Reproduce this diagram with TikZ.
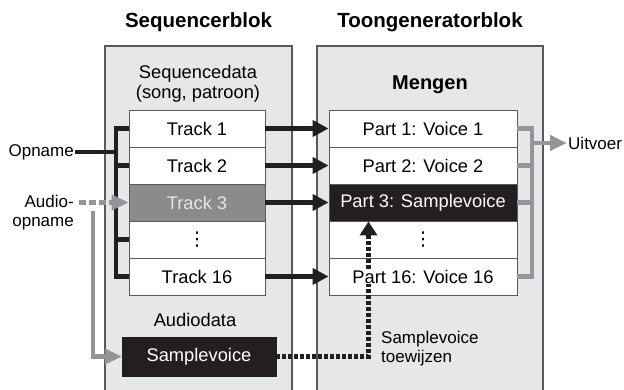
\documentclass[tikz,border=0pt]{standalone}
\usepackage{fontspec}
\setmainfont{Liberation Sans}
\newfontfamily\symfont{DejaVu Sans}
\usetikzlibrary{arrows.meta,calc,positioning}
\definecolor{ink}{HTML}{231F20}
\definecolor{panelgray}{HTML}{E6E7E8}
\definecolor{edgegray}{HTML}{58595B}
\definecolor{wiregray}{HTML}{939598}
\definecolor{trackgray}{HTML}{8A8B8D}
\definecolor{palegray}{HTML}{E6E6E6}
\tikzset{
  blocktitle/.style={font=\fontsize{20.5}{24}\selectfont\bfseries,inner sep=1pt},
  plain/.style={font=\fontsize{18.3}{19.5}\selectfont,align=center,inner sep=2pt},
  sidelabel/.style={font=\fontsize{17}{19.5}\selectfont,inner sep=1pt},
  panel/.style={draw=edgegray,fill=panelgray,line width=1.4pt},
  rowbox/.style={draw=edgegray,fill=white,line width=0.9pt,minimum height=37pt,inner sep=0pt,font=\fontsize{18.3}{19.5}\selectfont},
  trackrow/.style={rowbox,minimum width=136pt},
  partrow/.style={rowbox,minimum width=188pt},
  greyrow/.style={fill=trackgray,text=palegray},
  darkrow/.style={fill=ink,text=white},
  busline/.style={line width=4.5pt,color=ink},
  graybus/.style={line width=4.5pt,color=wiregray},
  fatarr/.style={-{Triangle[length=16pt,width=16pt]},line width=4.5pt,color=ink},
  grayarr/.style={-{Triangle[length=17pt,width=15pt]},line width=4.5pt,color=wiregray},
  graydash/.style={grayarr,dash pattern=on 7pt off 3pt},
  dotwire/.style={-{Triangle[length=14pt,width=17pt]},line width=4.5pt,color=ink,dash pattern=on 3.5pt off 2.5pt}
}
\newcommand{\rowdots}{{\symfont\fontsize{19}{19}\selectfont ⋮}}

\begin{document}
\begin{tikzpicture}[x=1pt,y=-1pt]
  \useasboundingbox (0,0) rectangle (624,390);
  % two blocks
  \draw[panel] (105,46) rectangle (292,393);
  \draw[panel] (317,46) rectangle (543,393);
  \node[blocktitle] (seqtitle) at (198.5,22) {Sequencerblok};
  \node[blocktitle] (tgtitle) at (430,22) {Toongeneratorblok};
  \node[plain] (sdata) at (198,84) {Sequencedata\\(song, patroon)};
  \node[plain,font=\fontsize{20}{22}\selectfont\bfseries] (mix) at (430,85) {Mengen};

  % rows
  \foreach \id/\yy/\kind/\txt in {t1/128.5/rowbox/Track 1,t2/165.5/rowbox/Track 2,
      t3/202.5/greyrow/Track 3,td/239.5/rowbox/\rowdots,t16/276.5/rowbox/Track 16}
    \node[trackrow,\kind] (\id) at (197,\yy) {\txt};
  \foreach \id/\yy/\kind/\txt in {p1/128.5/rowbox/Part 1: Voice 1,p2/165.5/rowbox/Part 2: Voice 2,
      p3/202.5/darkrow/Part 3: Samplevoice,pd/239.5/rowbox/\rowdots}
    \node[partrow,\kind] (\id) at (423,\yy) {\txt};
  \node[partrow] (p16) at (423,276.5) {};

  \foreach \a/\b in {t1/p1,t2/p2,t3/p3,t16/p16}
    \draw[fatarr] (\a.east) -- (\b.west);

  % recording in
  \coordinate (inbus) at (116,0);
  \node[sidelabel,anchor=east] (opn) at (75,152) {Opname};
  \draw[busline] (t1.west) -| (inbus |- t16.west) -- (t16.west);
  \foreach \r in {t2,td}
    \draw[busline] (\r.west) -- (\r.west -| inbus);
  \draw[busline] (opn.east) -- (opn.east -| inbus);

  \node[sidelabel,align=right,anchor=east] (aud) at (75,212.5) {Audio-\\opname};
  \draw[graydash,shorten <=4pt] (aud.east |- t3.west) -- (t3.west);

  % audio data
  \node[plain] (adata) at (195,320) {Audiodata};
  \node[draw=ink,fill=ink,text=white,minimum width=154pt,minimum height=39pt,inner sep=0pt,
    font=\fontsize{18.3}{19.5}\selectfont] (sv) at (199,356.5) {Samplevoice};
  \coordinate (tap) at (93,211);
  \draw[grayarr] (tap) |- (sv.west);

  \coordinate (tw) at (368.5,0);
  \draw[dotwire] (sv.east) -| (tw |- p3.south);
  \node[plain,fill=white,inner sep=1pt] (p16txt) at (p16) {Part 16: Voice 16};
  \node[sidelabel,align=left,anchor=west] (assign) at (380,348.5) {Samplevoice\\toewijzen};

  % output
  \coordinate (outbus) at (532,0);
  \draw[graybus] (p1.east) -| (outbus |- p16.east) -- (p16.east);
  \foreach \r in {p2,p3}
    \draw[graybus] (\r.east) -- (\r.east -| outbus);
  \node[sidelabel,anchor=west] (uit) at (567,143) {Uitvoer};
  \draw[grayarr] (outbus |- uit.west) -- (uit.west);
\end{tikzpicture}
\end{document}
